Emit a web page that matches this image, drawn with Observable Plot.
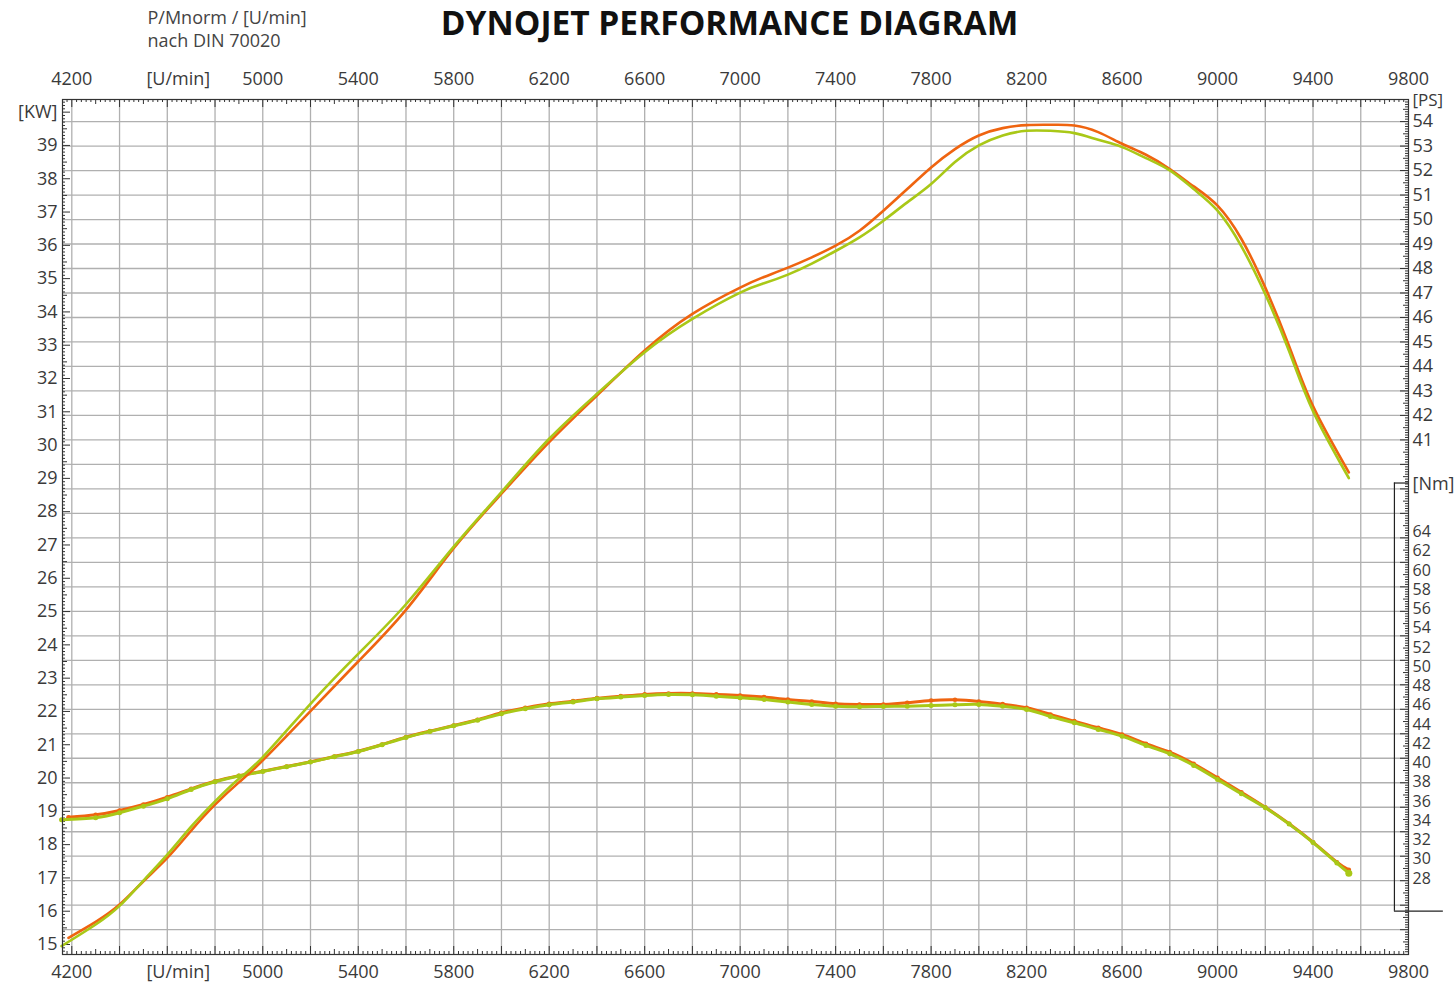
<!DOCTYPE html>
<html>
<head>
<meta charset="utf-8">
<script src="https://cdn.jsdelivr.net/npm/d3@7"></script>
<script src="https://cdn.jsdelivr.net/npm/@observablehq/plot@0.6"></script>
<style>
html,body{margin:0;padding:0;background:#fff;}
#chart svg{display:block;}
</style>
</head>
<body>
<div id="chart"></div>
<script>
// ---------- data ----------
const rpmPowerOrange = [4186,4300,4400,4500,4600,4700,4800,4900,5000,5200,5400,5600,5800,6000,6200,6400,6600,6800,
  7000,7100,7200,7300,7400,7500,7600,7700,7800,7900,8000,8100,8200,8300,8400,8500,8600,8700,8800,8900,9000,9100,9200,9300,9400,9550];
const kwOrange = [15.2,15.68,16.2,16.9,17.6,18.42,19.2,19.87,20.53,22.01,23.5,25.05,26.9,28.54,30.09,31.49,32.84,33.94,
  34.73,35.05,35.33,35.64,35.99,36.44,37.04,37.69,38.34,38.89,39.30,39.52,39.61,39.62,39.6,39.4,39.05,38.72,38.29,37.77,37.19,36.19,34.73,32.97,31.17,29.18];

const rpmPowerGreen = [4157,4300,4400,4500,4600,4700,4800,4900,5000,5200,5400,5600,5800,6000,6200,6400,6600,6800,
  7000,7100,7200,7300,7400,7500,7600,7700,7800,7900,8000,8100,8200,8300,8400,8500,8600,8700,8800,8900,9000,9100,9200,9300,9400,9550];
const kwGreen = [14.95,15.6,16.16,16.92,17.7,18.54,19.3,19.98,20.63,22.23,23.73,25.22,26.95,28.59,30.19,31.54,32.79,33.79,
  34.58,34.86,35.12,35.45,35.83,36.24,36.74,37.29,37.84,38.5,39.0,39.30,39.44,39.44,39.37,39.17,38.95,38.62,38.25,37.69,37.04,35.97,34.53,32.82,31.02,29.01];

const rpmTorqueOrange = [4186,4300,4400,4500,4600,4700,4800,4900,5000,5100,5200,5300,5400,5500,5600,5700,5800,5900,6000,
  6100,6200,6300,6400,6500,6600,6700,6800,6900,7000,7100,7200,7300,7400,7500,7600,7700,7800,7900,8000,
  8100,8200,8300,8400,8500,8600,8700,8800,8900,9000,9100,9200,9300,9400,9500,9550];
const nmOrange = [34.37,34.62,35.07,35.69,36.45,37.32,38.11,38.68,39.15,39.64,40.13,40.68,41.23,41.93,42.69,43.31,43.9,44.5,45.22,
  45.74,46.16,46.43,46.74,46.95,47.13,47.23,47.23,47.13,47.02,46.85,46.6,46.4,46.16,46.09,46.09,46.26,46.5,46.57,46.4,
  46.12,45.74,45.05,44.35,43.66,42.97,42.0,41.13,39.92,38.47,36.97,35.41,33.69,31.77,29.69,28.9];

const rpmTorqueGreen = [4157,4300,4400,4500,4600,4700,4800,4900,5000,5100,5200,5300,5400,5500,5600,5700,5800,5900,6000,
  6100,6200,6300,6400,6500,6600,6700,6800,6900,7000,7100,7200,7300,7400,7500,7600,7700,7800,7900,8000,
  8100,8200,8300,8400,8500,8600,8700,8800,8900,9000,9100,9200,9300,9400,9500,9550];
const nmGreen = [34.1,34.31,34.83,35.52,36.28,37.25,38.05,38.65,39.12,39.62,40.1,40.65,41.2,41.9,42.65,43.28,43.87,44.45,45.12,
  45.64,46.06,46.35,46.67,46.85,47.02,47.13,47.09,46.95,46.78,46.6,46.33,46.09,45.91,45.84,45.88,45.91,45.98,46.05,46.09,
  45.9,45.57,44.84,44.18,43.49,42.79,41.83,40.96,39.75,38.29,36.8,35.35,33.65,31.73,29.6,28.55];

// tick labels
const rpmLabels = [4200,5000,5400,5800,6200,6600,7000,7400,7800,8200,8600,9000,9400,9800];
const rpmUnitAt = 4600;
const kwLabels = [15,16,17,18,19,20,21,22,23,24,25,26,27,28,29,30,31,32,33,34,35,36,37,38,39];
const psLabels = [41,42,43,44,45,46,47,48,49,50,51,52,53,54];
const nmLabels = [28,30,32,34,36,38,40,42,44,46,48,50,52,54,56,58,60,62,64];
const rpmGrid = [4200,4400,4600,4800,5000,5200,5400,5600,5800,6000,6200,6400,6600,6800,7000,7200,7400,7600,7800,8000,8200,8400,8600,8800,9000,9200,9400,9600];
const psGrid = [21,22,23,24,25,26,27,28,29,30,31,32,33,34,35,36,37,38,39,40,41,42,43,44,45,46,47,48,49,50,51,52,53,54];

// ---------- scales / axis relations ----------
const KW_PER_PS = 0.73549875;
const X_DOMAIN = [4161, 9800];
const Y_DOMAIN = [14.70, 40.38];           // kW
const NM_REF = [[28, 16.983], [64, 27.387]]; // Nm axis placed against the kW frame
const nmToKw = nm => NM_REF[0][1] + (nm - NM_REF[0][0]) * (NM_REF[1][1] - NM_REF[0][1]) / (NM_REF[1][0] - NM_REF[0][0]);
const NM_BRACKET = [24.6, 69.1];
const NM_BRACKET_RPM = 9741;
const NM_BRACKET_BOTTOM_END = 9946;

const W = 1455, H = 985, ML = 62, MR = 47, MT = 99, MB = 31;
const kx = (W - ML - MR) / (X_DOMAIN[1] - X_DOMAIN[0]);
const ky = (H - MT - MB) / (Y_DOMAIN[1] - Y_DOMAIN[0]);

const orange = "#ef6410";
const green = "#a9c817";
const font = "'Open Sans', sans-serif";
const textFill = "#3a3a3a";

const zip = (xs, ys) => xs.map((x, i) => ({x, y: ys[i]}));
const powerO = zip(rpmPowerOrange, kwOrange);
const powerG = zip(rpmPowerGreen, kwGreen);
const torqueO = zip(rpmTorqueOrange, nmOrange);
const torqueG = zip(rpmTorqueGreen, nmGreen);

// tick marks (inside the frame)
const near = (v, step) => Math.abs(v / step - Math.round(v / step)) < 1e-6;
const lenVal = v => near(v, 1) ? 8 : near(v, 0.5) ? 5 : 3;
const lenRpm = v => near(v, 200) ? 8 : near(v, 100) ? 5 : 3;
const kwTicks = d3.range(148, 404).map(i => i / 10);
const psTicks = d3.range(201, 550).map(i => i / 10);
const rpmTicks = d3.range(4180, 9801, 20);

const tickStyle = {stroke: "#333", strokeWidth: 1};
const lbl = {fontSize: 18, fill: textFill};

const chart = Plot.plot({
  width: W, height: H,
  marginLeft: ML, marginRight: MR, marginTop: MT, marginBottom: MB,
  x: {domain: X_DOMAIN, axis: null},
  y: {domain: Y_DOMAIN, axis: null},
  style: {fontFamily: font, background: "#fff", overflow: "visible"},
  marks: [
    // grid
    Plot.ruleX(rpmGrid, {x: d => d, stroke: "#b0b0b0", strokeWidth: 1.3}),
    Plot.ruleY(psGrid, {y: d => d * KW_PER_PS, stroke: "#b0b0b0", strokeWidth: 1.3}),

    // ticks
    Plot.ruleY(kwTicks, {y: d => d, x1: X_DOMAIN[0], x2: d => X_DOMAIN[0] + lenVal(d) / kx, ...tickStyle}),
    Plot.ruleY(psTicks, {y: d => d * KW_PER_PS, x1: d => X_DOMAIN[1] - lenVal(d) / kx, x2: X_DOMAIN[1], ...tickStyle}),
    Plot.ruleX(rpmTicks, {x: d => d, y1: Y_DOMAIN[1], y2: d => Y_DOMAIN[1] - lenRpm(d) / ky, ...tickStyle}),
    Plot.ruleX(rpmTicks, {x: d => d, y1: Y_DOMAIN[0], y2: d => Y_DOMAIN[0] + lenRpm(d) / ky, ...tickStyle}),

    // Nm bracket
    Plot.ruleX([NM_BRACKET_RPM], {x: d => d, y1: nmToKw(NM_BRACKET[0]), y2: nmToKw(NM_BRACKET[1]), stroke: "#222", strokeWidth: 1.2}),
    Plot.ruleY([NM_BRACKET[1]], {y: d => nmToKw(d), x1: NM_BRACKET_RPM, x2: X_DOMAIN[1], stroke: "#222", strokeWidth: 1.2}),
    Plot.ruleY([NM_BRACKET[0]], {y: d => nmToKw(d), x1: NM_BRACKET_RPM, x2: NM_BRACKET_BOTTOM_END, stroke: "#222", strokeWidth: 1.2}),

    // torque curves
    Plot.line(torqueO, {x: "x", y: d => nmToKw(d.y), stroke: orange, strokeWidth: 3, curve: "natural"}),
    Plot.dot(torqueO, {x: "x", y: d => nmToKw(d.y), r: 2.3, fill: orange}),
    Plot.line(torqueG, {x: "x", y: d => nmToKw(d.y), stroke: green, strokeWidth: 3, curve: "natural"}),
    Plot.dot(torqueG, {x: "x", y: d => nmToKw(d.y), r: 2.5, fill: green}),
    Plot.dot(torqueG.slice(-1), {x: "x", y: d => nmToKw(d.y), r: 3.5, fill: green}),

    // power curves
    Plot.line(powerO, {x: "x", y: "y", stroke: orange, strokeWidth: 2.6, curve: "natural"}),
    Plot.line(powerG, {x: "x", y: "y", stroke: green, strokeWidth: 2.6, curve: "natural"}),

    // frame
    Plot.frame({stroke: "#333", strokeWidth: 1.2}),

    // x labels top and bottom
    Plot.text(rpmLabels, {x: d => d, text: d => String(d), frameAnchor: "top", lineAnchor: "middle", dy: -20, ...lbl}),
    Plot.text(["[U/min]"], {x: rpmUnitAt, frameAnchor: "top", lineAnchor: "middle", dy: -20, dx: 11, ...lbl}),
    Plot.text(rpmLabels, {x: d => d, text: d => String(d), frameAnchor: "bottom", lineAnchor: "middle", dy: 18, ...lbl}),
    Plot.text(["[U/min]"], {x: rpmUnitAt, frameAnchor: "bottom", lineAnchor: "middle", dy: 18, dx: 11, ...lbl}),

    // left kW labels
    Plot.text(kwLabels, {y: d => d, text: d => String(d), frameAnchor: "left", dx: -5, textAnchor: "end", ...lbl}),
    Plot.text(["[KW]"], {y: 40, frameAnchor: "left", dx: -5, textAnchor: "end", ...lbl}),

    // right PS labels
    Plot.text(psLabels, {y: d => d * KW_PER_PS, text: d => String(d), frameAnchor: "right", dx: 4, textAnchor: "start", ...lbl}),
    Plot.text(["[PS]"], {y: 55 * KW_PER_PS, frameAnchor: "right", dx: 4, dy: 3, textAnchor: "start", fontSize: 17, fill: textFill}),

    // right Nm labels
    Plot.text(nmLabels, {y: d => nmToKw(d), text: d => String(d), frameAnchor: "right", dx: 4, textAnchor: "start", fontSize: 16, fill: textFill}),
    Plot.text(["[Nm]"], {y: nmToKw(69), frameAnchor: "right", dx: 4, textAnchor: "start", ...lbl}),

    // title and header
    Plot.text(["DYNOJET PERFORMANCE DIAGRAM"], {frameAnchor: "top", lineAnchor: "middle", dy: -75, dx: -6, fontSize: 33.5, fontWeight: "bold", fill: "#111"}),
    Plot.text(["P/Mnorm / [U/min]"], {frameAnchor: "top-left", lineAnchor: "middle", dx: 85, dy: -81, textAnchor: "start", fontSize: 18, fill: "#444"}),
    Plot.text(["nach DIN 70020"], {frameAnchor: "top-left", lineAnchor: "middle", dx: 85, dy: -58, textAnchor: "start", fontSize: 18, fill: "#444"})
  ]
});
document.getElementById("chart").appendChild(chart);
</script>
</body>
</html>
